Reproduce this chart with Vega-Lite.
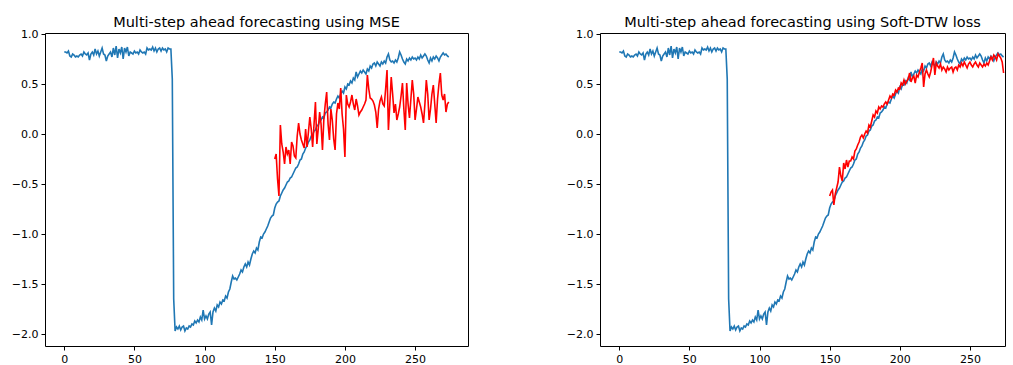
{
  "$schema": "https://vega.github.io/schema/vega-lite/v6.json",
  "padding": {"left": 10, "top": 13, "right": 0, "bottom": 1},
  "background": "white",
  "bounds": "flush",
  "spacing": 132,
  "config": {
    "font": "DejaVu Sans",
    "view": {"stroke": "black", "strokeWidth": 1},
    "axis": {"grid": false, "domain": false, "tickColor": "black", "tickSize": 4, "tickWidth": 1, "labelColor": "black", "labelFontSize": 11, "labelFont": "DejaVu Sans", "labelPadding": 3, "labelFlush": false, "labelOverlap": false, "title": null},
    "title": {"fontSize": 14.5, "fontWeight": "normal", "color": "black", "font": "DejaVu Sans", "offset": -2, "baseline": "alphabetic", "anchor": "middle"}
  },
  "datasets": {
    "truth": [
      {"t":0,"v":0.82},{"t":1,"v":0.82},{"t":2,"v":0.81},{"t":3,"v":0.83},{"t":4,"v":0.78},{"t":5,"v":0.77},{"t":6,"v":0.80},{"t":7,"v":0.79},{"t":8,"v":0.77},{"t":9,"v":0.78},
      {"t":10,"v":0.77},{"t":11,"v":0.79},{"t":12,"v":0.80},{"t":13,"v":0.78},{"t":14,"v":0.82},{"t":15,"v":0.80},{"t":16,"v":0.79},{"t":17,"v":0.81},{"t":18,"v":0.74},{"t":19,"v":0.80},
      {"t":20,"v":0.82},{"t":21,"v":0.79},{"t":22,"v":0.85},{"t":23,"v":0.80},{"t":24,"v":0.83},{"t":25,"v":0.78},{"t":26,"v":0.82},{"t":27,"v":0.86},{"t":28,"v":0.80},{"t":29,"v":0.79},
      {"t":30,"v":0.73},{"t":31,"v":0.78},{"t":32,"v":0.80},{"t":33,"v":0.82},{"t":34,"v":0.77},{"t":35,"v":0.86},{"t":36,"v":0.79},{"t":37,"v":0.88},{"t":38,"v":0.76},{"t":39,"v":0.85},
      {"t":40,"v":0.81},{"t":41,"v":0.87},{"t":42,"v":0.75},{"t":43,"v":0.86},{"t":44,"v":0.82},{"t":45,"v":0.87},{"t":46,"v":0.78},{"t":47,"v":0.82},{"t":48,"v":0.81},{"t":49,"v":0.80},
      {"t":50,"v":0.83},{"t":51,"v":0.81},{"t":52,"v":0.82},{"t":53,"v":0.80},{"t":54,"v":0.84},{"t":55,"v":0.82},{"t":56,"v":0.81},{"t":57,"v":0.82},{"t":58,"v":0.80},{"t":59,"v":0.86},
      {"t":60,"v":0.84},{"t":61,"v":0.85},{"t":62,"v":0.84},{"t":63,"v":0.87},{"t":64,"v":0.83},{"t":65,"v":0.86},{"t":66,"v":0.82},{"t":67,"v":0.85},{"t":68,"v":0.86},{"t":69,"v":0.83},
      {"t":70,"v":0.86},{"t":71,"v":0.84},{"t":72,"v":0.85},{"t":73,"v":0.82},{"t":74,"v":0.86},{"t":75,"v":0.85},{"t":76,"v":0.85},{"t":77,"v":0.55},{"t":78,"v":-1.65},{"t":79,"v":-1.97},
      {"t":80,"v":-1.93},{"t":81,"v":-1.95},{"t":82,"v":-1.92},{"t":83,"v":-1.96},{"t":84,"v":-1.93},{"t":85,"v":-1.92},{"t":86,"v":-1.97},{"t":87,"v":-1.94},{"t":88,"v":-1.95},{"t":89,"v":-1.92},
      {"t":90,"v":-1.93},{"t":91,"v":-1.90},{"t":92,"v":-1.91},{"t":93,"v":-1.87},{"t":94,"v":-1.89},{"t":95,"v":-1.86},{"t":96,"v":-1.88},{"t":97,"v":-1.83},{"t":98,"v":-1.86},{"t":99,"v":-1.76},
      {"t":100,"v":-1.85},{"t":101,"v":-1.82},{"t":102,"v":-1.85},{"t":103,"v":-1.80},{"t":104,"v":-1.78},{"t":105,"v":-1.91},{"t":106,"v":-1.78},{"t":107,"v":-1.74},{"t":108,"v":-1.77},{"t":109,"v":-1.71},
      {"t":110,"v":-1.73},{"t":111,"v":-1.68},{"t":112,"v":-1.70},{"t":113,"v":-1.66},{"t":114,"v":-1.67},{"t":115,"v":-1.62},{"t":116,"v":-1.64},{"t":117,"v":-1.58},{"t":118,"v":-1.55},{"t":119,"v":-1.48},
      {"t":120,"v":-1.42},{"t":121,"v":-1.45},{"t":122,"v":-1.44},{"t":123,"v":-1.46},{"t":124,"v":-1.43},{"t":125,"v":-1.40},{"t":126,"v":-1.36},{"t":127,"v":-1.38},{"t":128,"v":-1.33},{"t":129,"v":-1.30},
      {"t":130,"v":-1.33},{"t":131,"v":-1.28},{"t":132,"v":-1.31},{"t":133,"v":-1.25},{"t":134,"v":-1.20},{"t":135,"v":-1.17},{"t":136,"v":-1.19},{"t":137,"v":-1.14},{"t":138,"v":-1.16},{"t":139,"v":-1.08},
      {"t":140,"v":-1.03},{"t":141,"v":-1.04},{"t":142,"v":-1.00},{"t":143,"v":-0.98},{"t":144,"v":-0.95},{"t":145,"v":-0.92},{"t":146,"v":-0.88},{"t":147,"v":-0.84},{"t":148,"v":-0.82},{"t":149,"v":-0.81},
      {"t":150,"v":-0.74},{"t":151,"v":-0.70},{"t":152,"v":-0.68},{"t":153,"v":-0.67},{"t":154,"v":-0.62},{"t":155,"v":-0.59},{"t":156,"v":-0.56},{"t":157,"v":-0.54},{"t":158,"v":-0.51},{"t":159,"v":-0.48},
      {"t":160,"v":-0.47},{"t":161,"v":-0.44},{"t":162,"v":-0.43},{"t":163,"v":-0.40},{"t":164,"v":-0.37},{"t":165,"v":-0.34},{"t":166,"v":-0.33},{"t":167,"v":-0.30},{"t":168,"v":-0.26},{"t":169,"v":-0.25},
      {"t":170,"v":-0.20},{"t":171,"v":-0.18},{"t":172,"v":-0.14},{"t":173,"v":-0.12},{"t":174,"v":-0.08},{"t":175,"v":-0.06},{"t":176,"v":-0.02},{"t":177,"v":-0.01},{"t":178,"v":0.03},{"t":179,"v":0.04},
      {"t":180,"v":0.08},{"t":181,"v":0.09},{"t":182,"v":0.13},{"t":183,"v":0.14},{"t":184,"v":0.17},{"t":185,"v":0.16},{"t":186,"v":0.21},{"t":187,"v":0.22},{"t":188,"v":0.24},{"t":189,"v":0.27},
      {"t":190,"v":0.26},{"t":191,"v":0.30},{"t":192,"v":0.32},{"t":193,"v":0.31},{"t":194,"v":0.35},{"t":195,"v":0.38},{"t":196,"v":0.36},{"t":197,"v":0.40},{"t":198,"v":0.43},{"t":199,"v":0.41},
      {"t":200,"v":0.47},{"t":201,"v":0.45},{"t":202,"v":0.50},{"t":203,"v":0.49},{"t":204,"v":0.53},{"t":205,"v":0.51},{"t":206,"v":0.56},{"t":207,"v":0.54},{"t":208,"v":0.62},{"t":209,"v":0.57},
      {"t":210,"v":0.60},{"t":211,"v":0.63},{"t":212,"v":0.61},{"t":213,"v":0.64},{"t":214,"v":0.62},{"t":215,"v":0.60},{"t":216,"v":0.65},{"t":217,"v":0.63},{"t":218,"v":0.68},{"t":219,"v":0.66},
      {"t":220,"v":0.70},{"t":221,"v":0.71},{"t":222,"v":0.68},{"t":223,"v":0.72},{"t":224,"v":0.70},{"t":225,"v":0.68},{"t":226,"v":0.72},{"t":227,"v":0.70},{"t":228,"v":0.73},{"t":229,"v":0.71},
      {"t":230,"v":0.77},{"t":231,"v":0.80},{"t":232,"v":0.74},{"t":233,"v":0.72},{"t":234,"v":0.73},{"t":235,"v":0.71},{"t":236,"v":0.74},{"t":237,"v":0.72},{"t":238,"v":0.76},{"t":239,"v":0.82},
      {"t":240,"v":0.79},{"t":241,"v":0.75},{"t":242,"v":0.72},{"t":243,"v":0.70},{"t":244,"v":0.75},{"t":245,"v":0.73},{"t":246,"v":0.76},{"t":247,"v":0.74},{"t":248,"v":0.77},{"t":249,"v":0.75},
      {"t":250,"v":0.76},{"t":251,"v":0.74},{"t":252,"v":0.77},{"t":253,"v":0.75},{"t":254,"v":0.79},{"t":255,"v":0.76},{"t":256,"v":0.78},{"t":257,"v":0.80},{"t":258,"v":0.78},{"t":259,"v":0.74},
      {"t":260,"v":0.71},{"t":261,"v":0.76},{"t":262,"v":0.73},{"t":263,"v":0.77},{"t":264,"v":0.75},{"t":265,"v":0.78},{"t":266,"v":0.76},{"t":267,"v":0.73},{"t":268,"v":0.77},{"t":269,"v":0.79},
      {"t":270,"v":0.81},{"t":271,"v":0.79},{"t":272,"v":0.80},{"t":273,"v":0.78},{"t":274,"v":0.77}
    ],
    "mse": [
      {"t":150,"v":-0.25},{"t":151,"v":-0.20},{"t":152,"v":-0.45},{"t":153,"v":-0.62},{"t":154,"v":0.09},{"t":155,"v":-0.10},{"t":156,"v":-0.18},{"t":157,"v":-0.30},{"t":158,"v":-0.13},{"t":159,"v":-0.20},
      {"t":160,"v":-0.16},{"t":161,"v":-0.30},{"t":162,"v":-0.08},{"t":163,"v":-0.12},{"t":164,"v":-0.22},{"t":165,"v":-0.24},{"t":166,"v":-0.02},{"t":167,"v":0.11},{"t":168,"v":0.00},{"t":169,"v":-0.06},
      {"t":170,"v":-0.10},{"t":171,"v":-0.14},{"t":172,"v":0.05},{"t":173,"v":-0.13},{"t":174,"v":0.02},{"t":175,"v":0.17},{"t":176,"v":0.05},{"t":177,"v":-0.13},{"t":178,"v":0.10},{"t":179,"v":0.32},
      {"t":180,"v":-0.10},{"t":181,"v":0.05},{"t":182,"v":0.22},{"t":183,"v":0.10},{"t":184,"v":-0.16},{"t":185,"v":0.15},{"t":186,"v":0.30},{"t":187,"v":0.42},{"t":188,"v":0.10},{"t":189,"v":-0.06},
      {"t":190,"v":0.25},{"t":191,"v":0.14},{"t":192,"v":-0.05},{"t":193,"v":-0.16},{"t":194,"v":0.20},{"t":195,"v":0.31},{"t":196,"v":0.25},{"t":197,"v":0.46},{"t":198,"v":0.20},{"t":199,"v":0.05},
      {"t":200,"v":-0.23},{"t":201,"v":0.39},{"t":202,"v":0.30},{"t":203,"v":0.27},{"t":204,"v":0.32},{"t":205,"v":0.39},{"t":206,"v":0.30},{"t":207,"v":0.24},{"t":208,"v":0.35},{"t":209,"v":0.28},
      {"t":210,"v":0.19},{"t":211,"v":0.22},{"t":212,"v":0.24},{"t":213,"v":0.27},{"t":214,"v":0.30},{"t":215,"v":0.34},{"t":216,"v":0.59},{"t":217,"v":0.45},{"t":218,"v":0.36},{"t":219,"v":0.35},
      {"t":220,"v":0.33},{"t":221,"v":0.29},{"t":222,"v":0.22},{"t":223,"v":0.06},{"t":224,"v":0.25},{"t":225,"v":0.33},{"t":226,"v":0.37},{"t":227,"v":0.30},{"t":228,"v":0.28},{"t":229,"v":0.45},
      {"t":230,"v":0.64},{"t":231,"v":0.04},{"t":232,"v":0.30},{"t":233,"v":0.57},{"t":234,"v":0.40},{"t":235,"v":0.21},{"t":236,"v":0.30},{"t":237,"v":0.14},{"t":238,"v":0.20},{"t":239,"v":0.27},
      {"t":240,"v":0.38},{"t":241,"v":0.51},{"t":242,"v":0.25},{"t":243,"v":0.04},{"t":244,"v":0.51},{"t":245,"v":0.30},{"t":246,"v":0.16},{"t":247,"v":0.35},{"t":248,"v":0.54},{"t":249,"v":0.40},
      {"t":250,"v":0.14},{"t":251,"v":0.25},{"t":252,"v":0.37},{"t":253,"v":0.32},{"t":254,"v":0.27},{"t":255,"v":0.20},{"t":256,"v":0.11},{"t":257,"v":0.30},{"t":258,"v":0.54},{"t":259,"v":0.40},
      {"t":260,"v":0.14},{"t":261,"v":0.25},{"t":262,"v":0.40},{"t":263,"v":0.49},{"t":264,"v":0.30},{"t":265,"v":0.11},{"t":266,"v":0.35},{"t":267,"v":0.50},{"t":268,"v":0.61},{"t":269,"v":0.39},
      {"t":270,"v":0.34},{"t":271,"v":0.40},{"t":272,"v":0.22},{"t":273,"v":0.30},{"t":274,"v":0.32}
    ],
    "dtw": [
      {"t":150,"v":-0.62},{"t":151,"v":-0.58},{"t":152,"v":-0.56},{"t":153,"v":-0.71},{"t":154,"v":-0.60},{"t":155,"v":-0.54},{"t":156,"v":-0.48},{"t":157,"v":-0.33},{"t":158,"v":-0.42},{"t":159,"v":-0.47},
      {"t":160,"v":-0.29},{"t":161,"v":-0.35},{"t":162,"v":-0.26},{"t":163,"v":-0.33},{"t":164,"v":-0.27},{"t":165,"v":-0.27},{"t":166,"v":-0.23},{"t":167,"v":-0.25},{"t":168,"v":-0.17},{"t":169,"v":-0.15},
      {"t":170,"v":-0.11},{"t":171,"v":-0.08},{"t":172,"v":-0.03},{"t":173,"v":-0.01},{"t":174,"v":-0.04},{"t":175,"v":0.00},{"t":176,"v":0.03},{"t":177,"v":0.01},{"t":178,"v":0.09},{"t":179,"v":0.07},
      {"t":180,"v":0.13},{"t":181,"v":0.19},{"t":182,"v":0.17},{"t":183,"v":0.23},{"t":184,"v":0.21},{"t":185,"v":0.27},{"t":186,"v":0.25},{"t":187,"v":0.28},{"t":188,"v":0.27},{"t":189,"v":0.30},
      {"t":190,"v":0.32},{"t":191,"v":0.30},{"t":192,"v":0.34},{"t":193,"v":0.38},{"t":194,"v":0.36},{"t":195,"v":0.40},{"t":196,"v":0.39},{"t":197,"v":0.44},{"t":198,"v":0.42},{"t":199,"v":0.46},
      {"t":200,"v":0.45},{"t":201,"v":0.51},{"t":202,"v":0.49},{"t":203,"v":0.54},{"t":204,"v":0.50},{"t":205,"v":0.53},{"t":206,"v":0.55},{"t":207,"v":0.61},{"t":208,"v":0.52},{"t":209,"v":0.56},
      {"t":210,"v":0.58},{"t":211,"v":0.51},{"t":212,"v":0.59},{"t":213,"v":0.57},{"t":214,"v":0.62},{"t":215,"v":0.66},{"t":216,"v":0.71},{"t":217,"v":0.47},{"t":218,"v":0.60},{"t":219,"v":0.64},
      {"t":220,"v":0.60},{"t":221,"v":0.57},{"t":222,"v":0.62},{"t":223,"v":0.69},{"t":224,"v":0.76},{"t":225,"v":0.59},{"t":226,"v":0.71},{"t":227,"v":0.68},{"t":228,"v":0.66},{"t":229,"v":0.70},
      {"t":230,"v":0.64},{"t":231,"v":0.67},{"t":232,"v":0.65},{"t":233,"v":0.62},{"t":234,"v":0.67},{"t":235,"v":0.64},{"t":236,"v":0.66},{"t":237,"v":0.67},{"t":238,"v":0.62},{"t":239,"v":0.66},
      {"t":240,"v":0.67},{"t":241,"v":0.64},{"t":242,"v":0.69},{"t":243,"v":0.67},{"t":244,"v":0.71},{"t":245,"v":0.68},{"t":246,"v":0.72},{"t":247,"v":0.69},{"t":248,"v":0.66},{"t":249,"v":0.70},
      {"t":250,"v":0.72},{"t":251,"v":0.69},{"t":252,"v":0.67},{"t":253,"v":0.70},{"t":254,"v":0.72},{"t":255,"v":0.69},{"t":256,"v":0.67},{"t":257,"v":0.71},{"t":258,"v":0.69},{"t":259,"v":0.67},
      {"t":260,"v":0.70},{"t":261,"v":0.68},{"t":262,"v":0.71},{"t":263,"v":0.69},{"t":264,"v":0.73},{"t":265,"v":0.77},{"t":266,"v":0.74},{"t":267,"v":0.79},{"t":268,"v":0.77},{"t":269,"v":0.74},
      {"t":270,"v":0.80},{"t":271,"v":0.78},{"t":272,"v":0.76},{"t":273,"v":0.72},{"t":274,"v":0.61}
    ]
  },
  "hconcat": [
    {
      "title": "Multi-step ahead forecasting using MSE",
      "width": 423,
      "height": 313,
      "encoding": {
        "x": {"field": "t", "type": "quantitative", "scale": {"domain": [-13.7, 287.7], "nice": false, "zero": false}, "axis": {"values": [0, 50, 100, 150, 200, 250]}},
        "y": {"field": "v", "type": "quantitative", "scale": {"domain": [-2.12, 1.01], "nice": false, "zero": false}, "axis": {"values": [-2, -1.5, -1, -0.5, 0, 0.5, 1], "labelExpr": "replace(format(datum.value, '.1f'), '-', '\u2212')"}}
      },
      "layer": [
        {"data": {"name": "truth"}, "mark": {"type": "line", "color": "#1f77b4", "strokeWidth": 1.6}},
        {"data": {"name": "mse"}, "mark": {"type": "line", "color": "#ff0000", "strokeWidth": 1.6}}
      ]
    },
    {
      "title": "Multi-step ahead forecasting using Soft-DTW loss",
      "width": 405,
      "height": 313,
      "encoding": {
        "x": {"field": "t", "type": "quantitative", "scale": {"domain": [-13.7, 275.0], "nice": false, "zero": false}, "axis": {"values": [0, 50, 100, 150, 200, 250]}},
        "y": {"field": "v", "type": "quantitative", "scale": {"domain": [-2.12, 1.01], "nice": false, "zero": false}, "axis": {"values": [-2, -1.5, -1, -0.5, 0, 0.5, 1], "labelExpr": "replace(format(datum.value, '.1f'), '-', '\u2212')"}}
      },
      "layer": [
        {"data": {"name": "truth"}, "mark": {"type": "line", "color": "#1f77b4", "strokeWidth": 1.6}},
        {"data": {"name": "dtw"}, "mark": {"type": "line", "color": "#ff0000", "strokeWidth": 1.6}}
      ]
    }
  ]
}
